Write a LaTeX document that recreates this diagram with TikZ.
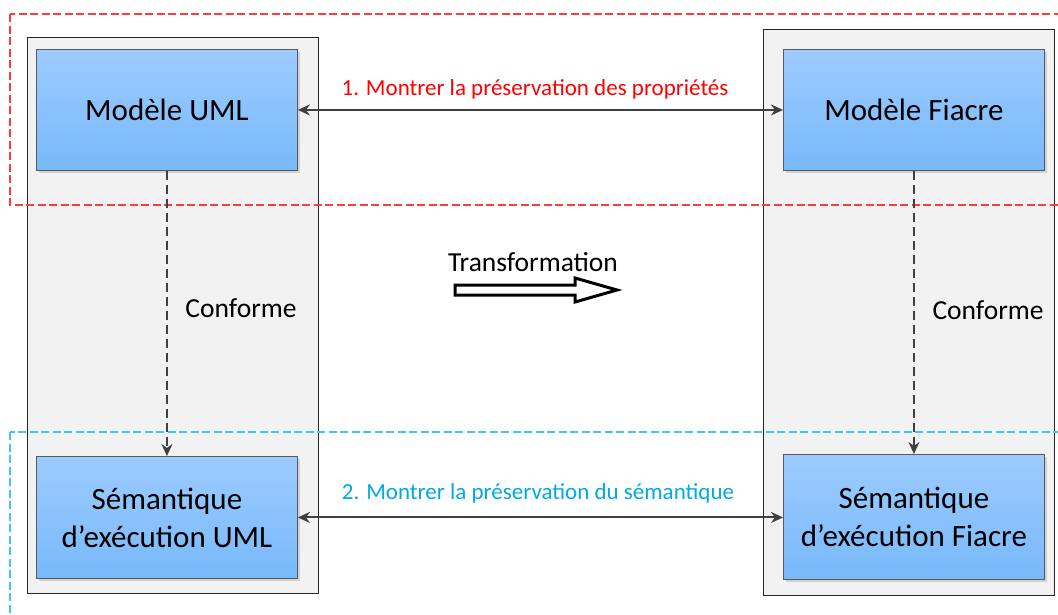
\documentclass[tikz,border=0pt]{standalone}
\usepackage{fontspec}
\setmainfont{Carlito}
\usetikzlibrary{arrows.meta,shadows}
\definecolor{boxtop}{RGB}{157,203,255}
\definecolor{boxbot}{RGB}{120,185,250}
\definecolor{boxline}{RGB}{90,90,90}
\definecolor{contfill}{RGB}{242,242,242}
\definecolor{arrgray}{RGB}{64,64,64}
\definecolor{redlbl}{RGB}{255,0,0}
\definecolor{reddash}{RGB}{255,60,60}
\definecolor{cyanlbl}{RGB}{0,170,230}
\definecolor{cyandash}{RGB}{60,200,240}
\tikzset{
  container/.style={draw=black!85, fill=contfill, line width=0.9pt},
  bluebox/.style={draw=boxline, line width=0.9pt, top color=boxtop, bottom color=boxbot,
    drop shadow={shadow xshift=3pt, shadow yshift=-3pt, fill=black!18, opacity=1},
    align=center, font=\fontsize{31}{38}\selectfont, inner sep=0pt},
  biarrow/.style={{Stealth[length=12pt,width=11pt]}-{Stealth[length=12pt,width=11pt]}, draw=arrgray, line width=2pt},
  confarrow/.style={-{Stealth[length=12pt,width=11pt]}, draw=arrgray, line width=1.6pt, dash pattern=on 9pt off 5pt},
  lbl/.style={font=\fontsize{23}{27}\selectfont, inner sep=0pt},
  blk/.style={font=\fontsize{27.5}{32}\selectfont, inner sep=0pt},
  zone/.style={line width=1.3pt, dash pattern=on 8pt off 3.5pt},
}
\begin{document}
\begin{tikzpicture}[x=1pt,y=-1pt]
\clip (0,0) rectangle (1058,614);
\fill[white] (0,0) rectangle (1058,614);
% containers
\node[container, minimum width=291pt, minimum height=556pt, anchor=north west, inner sep=0pt] (cl) at (27,37) {};
\node[container, minimum width=291pt, minimum height=566pt, anchor=north west, inner sep=0pt] (cr) at (763,29) {};
% zones
\draw[zone, draw=reddash] (10,14) rectangle (1075,205);
\draw[zone, draw=cyandash] (10,432) rectangle (1075,640);
% boxes
\node[bluebox, minimum width=261pt, minimum height=121pt, anchor=north west] (ua) at (36,49) {Modèle UML};
\node[bluebox, minimum width=261pt, minimum height=121pt, anchor=north west] (fa) at (783,49) {Modèle Fiacre};
\node[bluebox, minimum width=261pt, minimum height=122pt, anchor=north west] (us) at (36,456) {Sémantique\\d’exécution UML};
\node[bluebox, minimum width=261pt, minimum height=125pt, anchor=north west] (fs) at (783,454) {Sémantique\\d’exécution Fiacre};
% connectors
\draw[biarrow] (ua.east) -- (fa.west);
\draw[biarrow] (us.east) -- (fs.west |- us.east);
\draw[confarrow] (ua.south) -- (us.north);
\draw[confarrow] (fa.south) -- (fs.north);
% labels
\node[lbl, text=redlbl] (l1) at (535,89) {1. Montrer la préservation des propriétés};
\node[lbl, text=cyanlbl] (l2) at (538,493) {2. Montrer la préservation du sémantique};
\node[blk] (c1) at (241,308) {Conforme};
\node[blk] (c2) at (988,310) {Conforme};
\node[blk] (tr) at (533,262) {Transformation};
% hollow transformation arrow
\draw[line width=3pt, line join=miter] (455,285) -- (575,285) -- (575,278) -- (617,290) -- (575,302) -- (575,295) -- (455,295) -- cycle;
\end{tikzpicture}
\end{document}
